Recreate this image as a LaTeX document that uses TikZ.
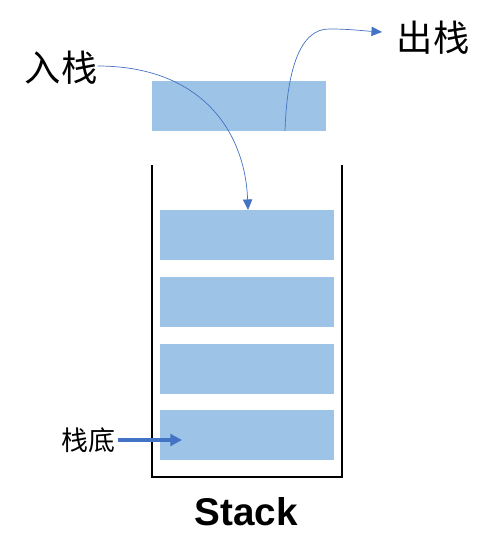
\documentclass[tikz,border=0pt]{standalone}
\usepackage{fontspec}
\newfontfamily\cjk{Noto Sans CJK SC}
\newfontfamily\latinbold{Liberation Sans}
\usetikzlibrary{arrows.meta}
\definecolor{cellblue}{HTML}{9DC3E6}
\definecolor{arrowblue}{HTML}{4472C4}

\begin{document}
\begin{tikzpicture}[x=0.03cm, y=-0.03cm,
	cell/.style={fill=cellblue, draw=none, minimum width=5.22cm, minimum height=1.5cm, inner sep=0pt},
	arrow/.style={draw=arrowblue, line width=0.6pt, -{Triangle[length=9pt, width=8pt]}},
	bigarrow/.style={draw=arrowblue, line width=3pt, -{Triangle[length=10pt, width=10pt]}},
	heading/.style={font=\cjk\fontsize{31}{31}\selectfont, inner sep=0pt},
	label/.style={font=\cjk\fontsize{23}{23}\selectfont, inner sep=0pt}
]
\useasboundingbox (0,0) rectangle (492,560);

% element leaving the stack
\node[cell] (top) at (239,106) {};

% stack container
\draw[line width=1.6pt] (152,165) -- (152,477) -- (342,477) -- (342,165);
\node[cell] (c1) at (247,235) {};
\node[cell] (c2) at (247,302) {};
\node[cell] (c3) at (247,369) {};
\node[cell] (c4) at (247,435) {};

% labels
\node[heading] (push) at (61,68) {入栈};
\node[heading] (pop) at (433,38) {出栈};
\node[label] (bottom) at (88,440) {栈底};
\node[font=\latinbold\bfseries\fontsize{33}{33}\selectfont, inner sep=0pt] (name) at (246,512) {Stack};

\coordinate (popfrom) at (285,131);
\coordinate (popto) at (382,32);
\coordinate (pushto) at (248,210);
\coordinate (bottomto) at (182,440);

% push and pop
\draw[arrow] (push.east) ++(0,-2) .. controls (200,66) and (245,130) .. (pushto);
\draw[arrow] (popfrom) .. controls (287,70) and (300,28) .. (330,29) .. controls (350,29) and (365,31) .. (popto);

% bottom of the stack
\draw[bigarrow] (bottom.east) ++(3,0) -- (bottomto);
\end{tikzpicture}
\end{document}
